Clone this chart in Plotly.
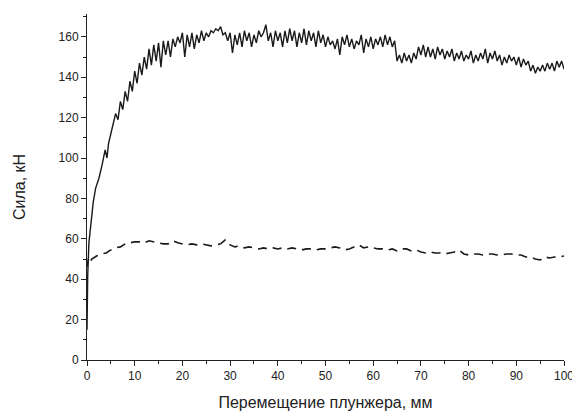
import numpy as np
import plotly.graph_objects as go

# ---- Data ----
# Solid curve: initial steep rise (explicit x), then a noisy part sampled every 0.5 mm from 5.5 mm
solid_start_x = [0, 0.15, 0.4, 0.8, 1.3, 1.8, 2.5, 3.2, 3.8, 4.2, 4.5, 5.0]
solid_start_y = [15, 42, 58, 68, 78, 85, 90, 97, 104, 100, 107, 112]
solid_grid_start = 5.5
solid_grid_step = 0.5
solid_noisy_y = [
    117, 122, 119, 128, 124, 133, 128, 138, 133, 143,   # 5.5-10
    137, 147, 141, 150, 144, 154, 146, 156, 148, 157,   # 10.5-15
    145, 158, 151, 158, 150, 159, 155, 160, 157, 162,   # 15.5-20
    150, 161, 155, 162, 154, 161, 157, 163, 158, 162,   # 20.5-25
    160, 163, 162, 164, 163, 165, 161, 162, 158, 162,   # 25.5-30
    152, 161, 156, 162, 155, 163, 158, 162, 155, 161,   # 30.5-35
    157, 163, 160, 162, 166, 158, 162, 155, 163, 158,   # 35.5-40
    162, 155, 163, 157, 164, 158, 163, 155, 162, 157,   # 40.5-45
    164, 156, 163, 158, 162, 155, 163, 157, 161, 155,   # 45.5-50
    160, 156, 158, 154, 159, 151, 160, 156, 161, 155,   # 50.5-55
    159, 154, 158, 156, 161, 152, 159, 155, 160, 154,   # 55.5-60
    159, 156, 160, 155, 161, 156, 160, 155, 158, 148,   # 60.5-65
    151, 147, 152, 148, 151, 147, 152, 149, 155, 151,   # 65.5-70
    156, 150, 155, 150, 154, 149, 155, 151, 154, 149,   # 70.5-75
    153, 150, 154, 148, 152, 149, 153, 148, 151, 149,   # 75.5-80
    153, 147, 151, 148, 152, 149, 154, 147, 152, 149,   # 80.5-85
    153, 148, 151, 146, 150, 147, 151, 148, 150, 146,   # 85.5-90
    150, 145, 149, 146, 148, 143, 146, 142, 145, 143,   # 90.5-95
    146, 143, 147, 144, 147, 143, 148, 145, 148, 144,   # 95.5-100
]

# Dashed curve: start points, then sampled every 1 mm from 1 mm
dashed_start_x = [0, 0.3, 0.6]
dashed_start_y = [46, 50, 48]
dashed_grid_start = 1.0
dashed_grid_step = 1.0
dashed_noisy_y = [
    50, 51.5, 52.5, 53, 54.5, 55.5, 56, 57.5, 58, 58.5,      # 1-10
    58.5, 58, 59, 58.5, 58, 57.5, 57.5, 59, 58, 57.5,        # 11-20
    57, 57.5, 57, 57.5, 57, 56.5, 57, 57.5, 59.5, 57,        # 21-30
    56, 56.5, 55.5, 56, 55.5, 55, 55.5, 55, 55.5, 55,        # 31-40
    55.5, 55, 55.5, 55, 54.5, 55, 55, 54.5, 55, 55,          # 41-50
    55.5, 56, 55.5, 54.5, 55, 56, 57, 55.5, 56, 55.5,        # 51-60
    55, 55, 54.5, 55, 54, 55, 55, 54, 54.5, 53.5,            # 61-70
    53, 53.5, 53, 53, 52.5, 53, 53.5, 54.5, 52.5, 52,        # 71-80
    52.5, 52.5, 52, 52.5, 52.5, 52, 52, 52.5, 52.5, 52,      # 81-90
    52, 51, 51, 50, 49.5, 51, 50.5, 51, 51, 51.5,            # 91-100
]

x_title = "Перемещение плунжера, мм"
y_title = "Сила, кН"
x_ticks = [0, 10, 20, 30, 40, 50, 60, 70, 80, 90, 100]
y_ticks = [0, 20, 40, 60, 80, 100, 120, 140, 160]

# ---- Build series ----
solid_x = solid_start_x + list(solid_grid_start + solid_grid_step * np.arange(len(solid_noisy_y)))
solid_y = solid_start_y + solid_noisy_y
dashed_x = dashed_start_x + list(dashed_grid_start + dashed_grid_step * np.arange(len(dashed_noisy_y)))
dashed_y = dashed_start_y + dashed_noisy_y

fig = go.Figure()
fig.add_trace(go.Scatter(x=dashed_x, y=dashed_y, mode="lines",
                         line=dict(color="#1a1a1a", width=1.6, dash="9px,6px"),
                         showlegend=False, hoverinfo="skip"))
fig.add_trace(go.Scatter(x=solid_x, y=solid_y, mode="lines",
                         line=dict(color="#1a1a1a", width=1.4),
                         showlegend=False, hoverinfo="skip"))

font_family = "Liberation Sans, Arial, sans-serif"
# page body adds an 8px offset; figure sized to compensate
fig.update_layout(
    width=572, height=407,
    margin=dict(l=79, r=12, t=6, b=53),
    paper_bgcolor="white", plot_bgcolor="white",
    font=dict(family=font_family, size=12, color="#222"),
)
fig.update_xaxes(
    range=[0, 100], tickvals=x_ticks, showgrid=False, zeroline=False,
    showline=True, linecolor="#222", linewidth=1,
    ticks="outside", ticklen=5, tickcolor="#222",
    minor=dict(dtick=5, ticks="outside", ticklen=3, tickcolor="#222"),
    title=dict(text=x_title, font=dict(size=16, color="#222"), standoff=14),
    tickfont=dict(size=12),
)
fig.update_yaxes(
    range=[0, 171.3], tickvals=y_ticks, showgrid=False, zeroline=False,
    showline=True, linecolor="#222", linewidth=1,
    ticks="outside", ticklen=5, tickcolor="#222",
    minor=dict(tickvals=[10, 30, 50, 70, 90, 110, 130, 150, 170], ticks="outside", ticklen=3, tickcolor="#222"),
    title=dict(text=y_title, font=dict(size=16, color="#222"), standoff=28),
    tickfont=dict(size=12),
)

fig.write_html("out.html")
